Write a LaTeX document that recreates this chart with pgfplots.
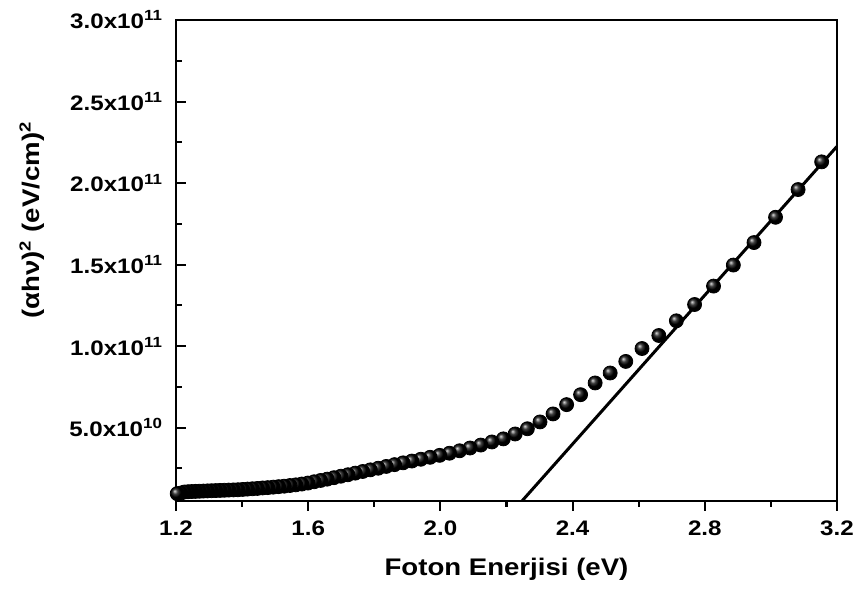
\documentclass[border=0pt]{standalone}
\usepackage{pgfplots}
\pgfplotsset{compat=1.18}
\usepackage{pgfplotstable}
\usepackage{fontspec}
\setmainfont{Liberation Sans}[FakeStretch=1.15]
\pgfplotstableread{
E y
3.1536 2.130e11
3.0823 1.960e11
3.0141 1.790e11
2.9489 1.635e11
2.8864 1.497e11
2.8265 1.368e11
2.7691 1.255e11
2.7140 1.155e11
2.6609 1.065e11
2.6100 0.985e11
2.5609 0.906e11
2.5137 0.835e11
2.4682 0.774e11
2.4242 0.702e11
2.3819 0.641e11
2.3409 0.584e11
2.3014 0.535e11
2.2632 0.493e11
2.2262 0.461e11
2.1904 0.431e11
2.1558 0.412e11
2.1222 0.393e11
2.0897 0.375e11
2.0581 0.358e11
2.0275 0.343e11
1.9977 0.330e11
1.9689 0.318e11
1.9408 0.306e11
1.9136 0.295e11
1.8871 0.284e11
1.8613 0.273e11
1.8362 0.262e11
1.8118 0.251e11
1.7880 0.241e11
1.7649 0.231e11
1.7423 0.221e11
1.7203 0.211e11
1.6989 0.202e11
1.6779 0.193e11
1.6575 0.184e11
1.6376 0.176e11
1.6182 0.168e11
1.5992 0.160e11
1.5806 0.154e11
1.5625 0.149e11
1.5448 0.145e11
1.5275 0.141e11
1.5105 0.138e11
1.4940 0.135e11
1.4778 0.132e11
1.4619 0.130e11
1.4464 0.127e11
1.4312 0.125e11
1.4163 0.123e11
1.4018 0.121e11
1.3875 0.119e11
1.3735 0.118e11
1.3598 0.117e11
1.3464 0.116e11
1.3332 0.115e11
1.3203 0.114e11
1.3076 0.113e11
1.2952 0.112e11
1.2830 0.111e11
1.2710 0.110e11
1.2593 0.109e11
1.2477 0.108e11
1.2364 0.107e11
1.2253 0.105e11
1.2144 0.099e11
1.2037 0.095e11
}\datatable
\pgfplotstableread{
E y
2.225 0
3.2 2.225e11
}\fitline
\begin{document}
\begin{tikzpicture}
\useasboundingbox (-88pt,-46pt) rectangle (340.5pt,250.5pt);
\begin{axis}[
  at={(0pt,0pt)}, anchor=south west,
  scale only axis, width=330.5pt, height=240.5pt,
  xmin=1.2, xmax=3.2, ymin=5e9, ymax=3e11,
  axis line style={line width=1.2pt},
  every tick/.style={black, line width=1pt},
  major tick length=5pt, minor tick length=3pt,
  xtick={1.2,1.6,2.0,2.4,2.8,3.2},
  xticklabels={1.2,1.6,2.0,2.4,2.8,3.2},
  minor xtick={1.4,1.8,2.2,2.6,3.0},
  ytick={5e10,1e11,1.5e11,2e11,2.5e11,3e11},
  yticklabels={5.0x10\textsuperscript{10},1.0x10\textsuperscript{11},1.5x10\textsuperscript{11},2.0x10\textsuperscript{11},2.5x10\textsuperscript{11},3.0x10\textsuperscript{11}},
  minor ytick={2.5e10,7.5e10,1.25e11,1.75e11,2.25e11,2.75e11},
  scaled y ticks=false,
  xtick pos=bottom, ytick pos=left,
  xtick align=outside, ytick align=inside,
  tick label style={font=\fontsize{10.5}{12}\selectfont\bfseries},
  yticklabel style={xshift=-3pt},
  xticklabel style={yshift=-1.5pt},
  every axis x label/.style={at={(axis description cs:0.5,0)}, yshift=-34pt, anchor=center},
  every axis y label/.style={at={(axis description cs:0,0.584)}, xshift=-72pt, rotate=90, anchor=center},
  xlabel={Foton Enerjisi (eV)},
  ylabel={(αhν)\textsuperscript{2} (eV/cm)\textsuperscript{2}},
  label style={font=\fontsize{12}{14}\selectfont\bfseries},
]
\addplot[black, line width=1.5pt, no marks] table[x=E, y=y] {\fitline};
\addplot[only marks, mark=ball, mark size=3.5pt, mark options={ball color=black}] table[x=E, y=y] {\datatable};
\end{axis}
\end{tikzpicture}
\end{document}
